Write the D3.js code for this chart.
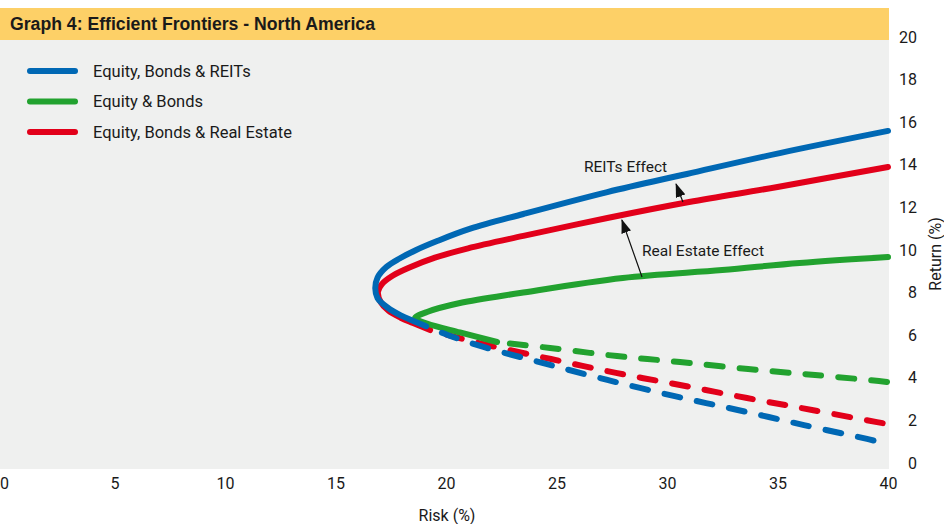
<!DOCTYPE html>
<html>
<head>
<meta charset="utf-8">
<script src="https://cdn.jsdelivr.net/npm/d3@7"></script>
<style>
  html, body { margin: 0; padding: 0; background: #ffffff; }
  svg { display: block; }
  text { font-family: Roboto, "Noto Sans", sans-serif; fill: #1a1a1a; }
</style>
</head>
<body>
<svg id="chart" width="944" height="524"></svg>
<script>
// Efficient frontiers, North America: points are [risk %, return %]
// Solid arcs are the efficient parts, dashed arcs the inefficient tails.
const reitsSolid = [[40.0,15.59],[35.1,14.55],[30.9,13.57],[27.3,12.72],[23.5,11.69],[21.1,11.0],[19.6,10.42],[18.65,10.0],[17.9,9.6],[17.3,9.2],[16.9,8.7],[16.8,8.2],[16.9,7.75],[17.35,7.3],[17.95,6.93],[18.55,6.66],[19.1,6.42]];
const reitsDashed = [[19.1,6.42],[20.1,6.0],[21.7,5.45],[24.4,4.69],[27.3,3.9],[30.3,3.15],[33.2,2.49],[36.2,1.78],[39.05,1.13],[39.6,0.99]];

const bondsSolid = [[40.0,9.67],[36.0,9.39],[32.5,9.06],[28.0,8.69],[23.35,7.98],[20.63,7.51],[19.14,7.09],[18.6,6.8],[19.14,6.55],[20.63,6.13],[22.31,5.68]];
const bondsDashed = [[22.31,5.68],[24.71,5.40],[27.74,5.02],[30.59,4.74],[33.67,4.41],[36.7,4.13],[39.59,3.85],[40.0,3.80]];

const realEstateSolid = [[40.0,13.9],[35.0,12.96],[31.0,12.25],[27.3,11.5],[23.5,10.66],[21.0,10.08],[19.5,9.64],[18.4,9.2],[17.6,8.8],[17.1,8.4],[16.92,8.03],[17.05,7.55],[17.4,7.15],[17.95,6.82],[18.51,6.57],[19.28,6.24]];
const realEstateDashed = [[19.28,6.24],[20.27,5.96],[21.86,5.54],[24.75,4.88],[27.69,4.23],[30.59,3.66],[33.62,3.05],[36.56,2.49],[39.5,1.92],[40.0,1.83]];

const seriesNames = ["Equity, Bonds & REITs", "Equity & Bonds", "Equity, Bonds & Real Estate"];
const seriesColors = ["#0068b4", "#22a22f", "#e2001a"];

const riskTicks = [0, 5, 10, 15, 20, 25, 30, 35, 40];
const returnTicks = [0, 2, 4, 6, 8, 10, 12, 14, 16, 18, 20];

// Annotation arrows: [tail, tip] in [risk, return]
const reitsArrow = [[30.72, 12.25], [30.41, 13.1]];
const realEstateArrow = [[28.87, 8.73], [27.96, 11.41]];
const annotations = [
  { text: "REITs Effect", at: [26.24, 13.66] },
  { text: "Real Estate Effect", at: [28.87, 9.72] }
];

const titleText = "Graph 4: Efficient Frontiers - North America";

const svg = d3.select("#chart");

const x = d3.scaleLinear().domain([0, 40]).range([4, 888]);
const y = d3.scaleLinear().domain([0, 20]).range([463, 37]);

// plot panel and title band
svg.append("rect").attr("x", 0).attr("y", 40).attr("width", 889).attr("height", 429).attr("fill", "#eff0ef");
svg.append("rect").attr("x", 0).attr("y", 8).attr("width", 889).attr("height", 32).attr("fill", "#fdd067");
svg.append("text")
  .attr("x", 10).attr("y", 24)
  .attr("dominant-baseline", "central")
  .attr("textLength", 365).attr("lengthAdjust", "spacingAndGlyphs")
  .style("font-family", "'Liberation Sans', Roboto, sans-serif")
  .style("font-weight", "bold")
  .style("font-size", "18px")
  .text(titleText);

// axes
const xAxis = svg.append("g")
  .attr("transform", "translate(0,469)")
  .call(d3.axisBottom(x).tickValues(riskTicks).tickSize(0).tickPadding(9).tickFormat(d3.format("d")));
xAxis.select(".domain").remove();
xAxis.selectAll("text").style("font-size", "16px").attr("fill", "#1a1a1a");

const yAxis = svg.append("g")
  .attr("transform", "translate(889,0)")
  .call(d3.axisRight(y).tickValues(returnTicks).tickSize(0).tickFormat(d3.format("d")));
yAxis.select(".domain").remove();
yAxis.selectAll("text").style("font-size", "16px").attr("text-anchor", "end").attr("x", 28).attr("fill", "#1a1a1a");

svg.append("text")
  .attr("x", 447).attr("y", 515)
  .attr("text-anchor", "middle").attr("dominant-baseline", "central")
  .style("font-size", "16px")
  .text("Risk (%)");

svg.append("text")
  .attr("transform", "translate(935,254) rotate(-90)")
  .attr("text-anchor", "middle").attr("dominant-baseline", "central")
  .style("font-size", "16px")
  .text("Return (%)");

// frontier curves
const line = d3.line().x(d => x(d[0])).y(d => y(d[1])).curve(d3.curveCatmullRom.alpha(0.5));
const curves = [
  { solid: realEstateSolid, dashed: realEstateDashed, color: seriesColors[2], offset: 16 },
  { solid: bondsSolid, dashed: bondsDashed, color: seriesColors[1], offset: 20 },
  { solid: reitsSolid, dashed: reitsDashed, color: seriesColors[0], offset: 16 }
];
const curveLayer = svg.append("g").attr("fill", "none").attr("stroke-width", 6).attr("stroke-linecap", "round");
curves.forEach(c => {
  curveLayer.append("path").attr("d", line(c.dashed)).attr("stroke", c.color)
    .attr("stroke-dasharray", "16,17").attr("stroke-dashoffset", c.offset);
  curveLayer.append("path").attr("d", line(c.solid)).attr("stroke", c.color);
});

// arrows
const defs = svg.append("defs");
defs.append("marker")
  .attr("id", "arrowHead")
  .attr("markerUnits", "userSpaceOnUse")
  .attr("viewBox", "0 0 14 10")
  .attr("refX", 13).attr("refY", 5)
  .attr("markerWidth", 14).attr("markerHeight", 10)
  .attr("orient", "auto")
  .append("path").attr("d", "M0,0 L14,5 L0,10 Z").attr("fill", "#111");

[reitsArrow, realEstateArrow].forEach(a => {
  svg.append("line")
    .attr("x1", x(a[0][0])).attr("y1", y(a[0][1]))
    .attr("x2", x(a[1][0])).attr("y2", y(a[1][1]))
    .attr("stroke", "#111").attr("stroke-width", 1.2)
    .attr("marker-end", "url(#arrowHead)");
});

svg.selectAll(".annotation").data(annotations).join("text")
  .attr("class", "annotation")
  .attr("x", d => x(d.at[0])).attr("y", d => y(d.at[1]))
  .style("font-size", "15.5px")
  .text(d => d.text);

// legend
const legend = svg.append("g");
seriesNames.forEach((name, i) => {
  const ly = 71 + i * 30.5;
  legend.append("line").attr("x1", 30).attr("x2", 75).attr("y1", ly).attr("y2", ly)
    .attr("stroke", seriesColors[i]).attr("stroke-width", 6).attr("stroke-linecap", "round");
  legend.append("text").attr("x", 93).attr("y", ly).attr("dominant-baseline", "central")
    .style("font-size", "16.5px").text(name);
});
</script>
</body>
</html>
